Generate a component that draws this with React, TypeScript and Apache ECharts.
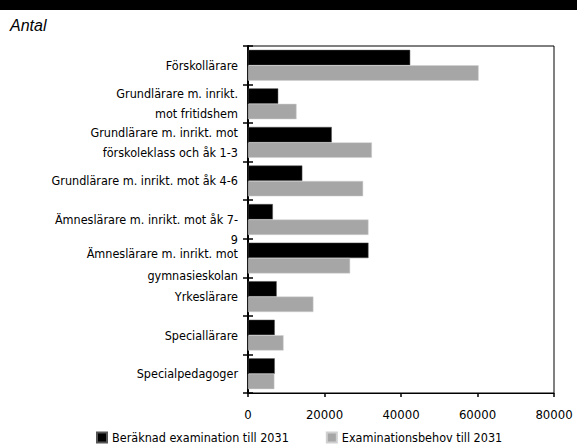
import React, { useEffect, useRef } from "react";
import * as echarts from "echarts";

const categories = [
  "Förskollärare",
  "Grundlärare m. inrikt.\nmot fritidshem",
  "Grundlärare m. inrikt. mot\nförskoleklass och åk 1-3",
  "Grundlärare m. inrikt. mot åk 4-6",
  "Ämneslärare m. inrikt. mot åk 7-\n9",
  "Ämneslärare m. inrikt. mot\ngymnasieskolan",
  "Yrkeslärare",
  "Speciallärare",
  "Specialpedagoger",
];
const seriesNames = ["Beräknad examination till 2031", "Examinationsbehov till 2031"];
const beraknad = [42400, 7900, 21900, 14200, 6500, 31500, 7500, 7000, 7000];
const behov = [60300, 12700, 32400, 30100, 31500, 26700, 17100, 9300, 6900];
const xTicks = { min: 0, max: 80000, interval: 20000 };

const NARROW = "'DejaVu Sans Condensed', 'Liberation Sans Narrow', sans-serif";

export default function App() {
  const ref = useRef<HTMLDivElement>(null);
  useEffect(() => {
    if (!ref.current) return;
    const chart = echarts.init(ref.current, null, { renderer: "svg" });
    const labelFormatter = (v: string) => {
      if (v === categories[4]) return "\n" + v;
      if (v === categories[5]) {
        const parts = v.split("\n");
        return "{s| }\n{g|" + parts[0] + "}\n{g|" + parts[1] + "}";
      }
      return v;
    };
    chart.setOption({
      animation: false,
      backgroundColor: "#fff",
      graphic: [
        { type: "rect", shape: { x: 0, y: 0, width: 577, height: 10 }, style: { fill: "#000" } },
        {
          type: "text",
          x: 10,
          y: 25,
          style: {
            text: "Antal",
            font: "italic 16px 'Liberation Sans', Arial, sans-serif",
            fill: "#000",
            verticalAlign: "middle",
          },
        },
      ],
      grid: {
        left: 248,
        right: 23,
        top: 46,
        bottom: 52,
        show: true,
        borderColor: "#000",
        borderWidth: 1,
        backgroundColor: "transparent",
      },
      legend: {
        left: 96,
        top: 431,
        padding: 0,
        itemWidth: 10,
        itemHeight: 10,
        itemGap: 37,
        icon: "rect",
        textStyle: { fontFamily: NARROW, fontSize: 12.5, color: "#000" },
        data: seriesNames,
      },
      xAxis: {
        type: "value",
        min: xTicks.min,
        max: xTicks.max,
        interval: xTicks.interval,
        axisLine: { show: true, lineStyle: { color: "#000", width: 1 } },
        axisTick: { show: true, length: 4, lineStyle: { color: "#000", width: 1.5 } },
        splitLine: { show: false },
        axisLabel: {
          color: "#000",
          fontFamily: NARROW,
          fontSize: 13,
          margin: 15,
          formatter: (v: number) => String(v),
        },
      },
      yAxis: [
        {
          type: "category",
          inverse: true,
          data: categories,
          axisLine: { show: true, lineStyle: { color: "#000", width: 2 } },
          axisTick: { show: true, length: 5, lineStyle: { color: "#000", width: 1.5 } },
          axisLabel: {
            color: "#000",
            fontFamily: NARROW,
            fontSize: 12.5,
            lineHeight: 20,
            margin: 10,
            align: "right",
            formatter: labelFormatter,
            rich: {
              s: { lineHeight: 13, fontSize: 12.5, fontFamily: NARROW, align: "right" },
              g: { lineHeight: 22.7, fontSize: 12.5, fontFamily: NARROW, color: "#000", align: "right" },
            },
          },
        },
        {
          type: "category",
          inverse: true,
          position: "left",
          data: categories,
          axisLine: { show: false },
          axisTick: { show: true, inside: true, length: 5, lineStyle: { color: "#000", width: 1.5 } },
          axisLabel: { show: false },
        },
      ],
      series: [
        {
          name: seriesNames[0],
          type: "bar",
          data: beraknad,
          yAxisIndex: 0,
          barGap: "0%",
          barCategoryGap: "20%",
          itemStyle: { color: "#000", borderColor: "#555", borderWidth: 0.5 },
        },
        {
          name: seriesNames[1],
          type: "bar",
          data: behov,
          yAxisIndex: 0,
          barGap: "0%",
          barCategoryGap: "20%",
          itemStyle: { color: "#a6a6a6", borderColor: "#d0d0d0", borderWidth: 0.5 },
        },
      ],
    });
    return () => chart.dispose();
  }, []);
  return <div ref={ref} style={{ width: 577, height: 445, position: "absolute", left: 0, top: 0 }} />;
}
